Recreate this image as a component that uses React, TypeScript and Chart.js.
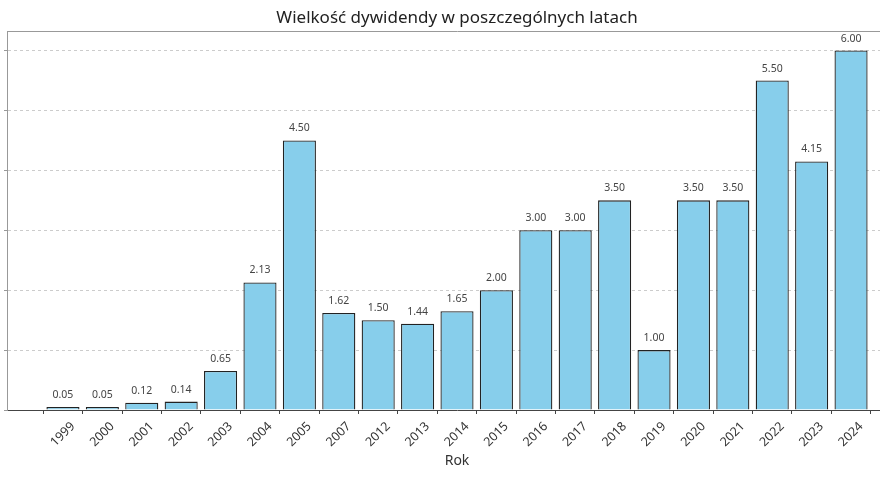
import React, { useRef, useEffect } from 'react';
import { Chart, registerables } from 'chart.js';

Chart.register(...registerables);

const years = ['1999', '2000', '2001', '2002', '2003', '2004', '2005', '2007', '2012', '2013', '2014',
    '2015', '2016', '2017', '2018', '2019', '2020', '2021', '2022', '2023', '2024'];
const dividends = [0.05, 0.05, 0.12, 0.14, 0.65, 2.13, 4.5, 1.62, 1.5, 1.44, 1.65,
    2.0, 3.0, 3.0, 3.5, 1.0, 3.5, 3.5, 5.5, 4.15, 6.0];
const yTicks = [0, 1, 2, 3, 4, 5, 6];

const FONT = "'Noto Sans', sans-serif";

const valueLabels = {
    id: 'valueLabels',
    afterDatasetsDraw(chart: any) {
        const ctx = chart.ctx;
        const meta = chart.getDatasetMeta(0);
        ctx.save();
        ctx.font = `10.5px ${FONT}`;
        ctx.fillStyle = '#444';
        ctx.textAlign = 'center';
        ctx.textBaseline = 'middle';
        meta.data.forEach((bar: any, i: number) => {
            ctx.fillText(dividends[i].toFixed(2), bar.x, bar.y - 12);
        });
        ctx.restore();
    }
};

export default function App() {
    const canvasRef = useRef<HTMLCanvasElement>(null);

    useEffect(() => {
        let chart: Chart | undefined;
        if (canvasRef.current) {
            chart = new Chart(canvasRef.current, {
                type: 'bar',
                data: {
                    datasets: [
                        {
                            data: dividends.map((v, i) => ({ x: i, y: v })),
                            backgroundColor: '#87CEEB',
                            borderColor: '#222',
                            borderWidth: 1.3,
                            barPercentage: 0.84,
                            categoryPercentage: 1
                        }
                    ]
                },
                options: {
                    animation: false,
                    responsive: false,
                    layout: { padding: { left: 4, right: 7, top: 0, bottom: 11 } },
                    plugins: {
                        legend: { display: false },
                        tooltip: { enabled: false },
                        title: {
                            display: true,
                            text: 'Wielkość dywidendy w poszczególnych latach',
                            fullSize: false,
                            color: '#222',
                            font: { family: FONT, size: 17, weight: 'normal' },
                            padding: { top: 8, bottom: 3 }
                        }
                    },
                    scales: {
                        x: {
                            type: 'linear',
                            offset: false,
                            min: -1.42,
                            max: 21.42,
                            afterBuildTicks: (scale: any) => {
                                scale.ticks = years.map((_, i) => ({ value: i }));
                            },
                            afterFit: (scale: any) => {
                                scale.height = 59;
                            },
                            ticks: {
                                callback: (value: any) => years[value] ?? '',
                                minRotation: 45,
                                maxRotation: 45,
                                autoSkip: false,
                                labelOffset: 10,
                                padding: 5,
                                color: '#333',
                                font: { family: FONT, size: 12.5 }
                            },
                            grid: {
                                drawOnChartArea: false,
                                drawTicks: true,
                                tickLength: 4,
                                tickColor: '#444'
                            },
                            border: { display: true, color: '#444', width: 1 },
                            title: {
                                display: true,
                                text: 'Rok',
                                color: '#333',
                                font: { family: FONT, size: 14 },
                                padding: 0
                            }
                        },
                        xTop: {
                            type: 'linear',
                            position: 'top',
                            offset: false,
                            min: -1.42,
                            max: 21.42,
                            ticks: { display: false },
                            grid: { drawOnChartArea: false, drawTicks: false },
                            border: { display: true, color: '#999', width: 1 }
                        },
                        y: {
                            min: 0,
                            max: 6.32,
                            afterBuildTicks: (scale: any) => {
                                scale.ticks = yTicks.map((v) => ({ value: v }));
                            },
                            ticks: { display: false },
                            grid: {
                                color: '#cccccc',
                                drawTicks: true,
                                tickLength: 3,
                                tickColor: '#999',
                                tickBorderDash: []
                            },
                            border: { display: true, color: '#999', width: 1, dash: [3, 3] }
                        }
                    }
                },
                plugins: [valueLabels]
            });
        }

        return () => {
            if (chart) {
                chart.destroy();
            }
        };
    }, []);

    return (
        <div style={{ position: 'absolute', left: 0, top: 0, width: 880, height: 480, overflow: 'hidden', background: '#fff' }}>
            <canvas ref={canvasRef} width={914} height={480} style={{ width: 914, height: 480 }}></canvas>
        </div>
    );
}
